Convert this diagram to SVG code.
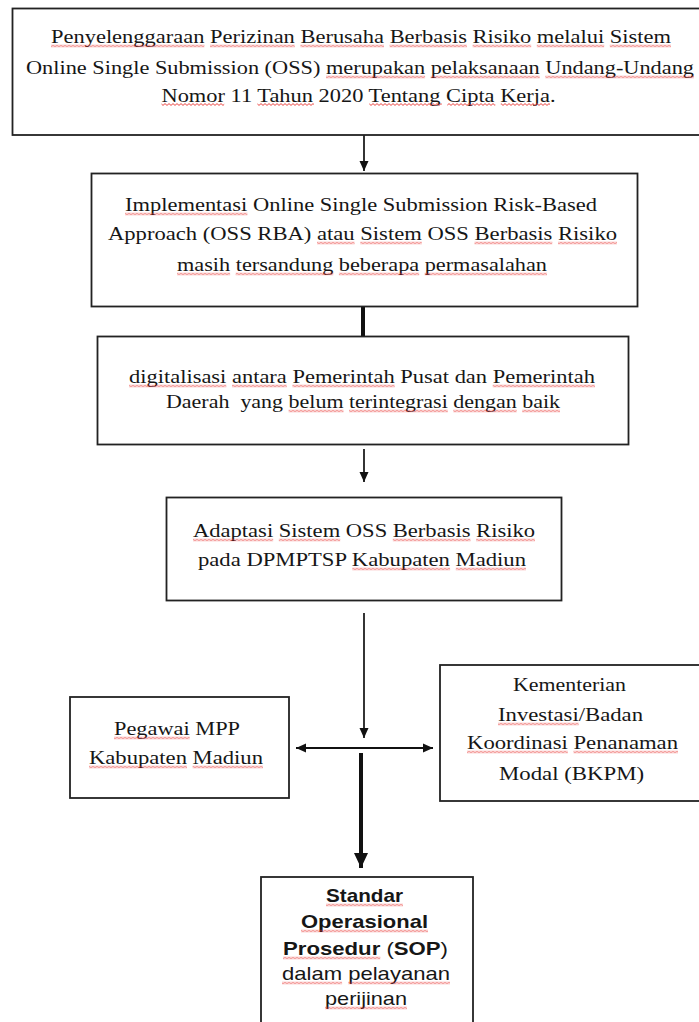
<svg xmlns="http://www.w3.org/2000/svg" width="699" height="1022" viewBox="0 0 699 1022">
<style>
.box{fill:#fff;stroke:#222;stroke-width:1.8}
.t{font-family:"Liberation Serif","Times New Roman",serif;font-size:19px;fill:#161616;text-anchor:middle}
.s{font-family:"Liberation Sans",Arial,sans-serif;font-size:19px;fill:#161616;text-anchor:middle}
.b{font-weight:bold}
.sq rect{height:3px;fill:url(#wv)}
.ln{stroke:#111;stroke-width:1.7;fill:none}
.hz{stroke:#111;stroke-width:2.2;fill:none}
.thick{stroke:#111;stroke-width:4;fill:none}
</style>
<defs>
<pattern id="wv" patternUnits="userSpaceOnUse" width="4" height="3">
<path d="M0,1.5 Q1,-0.3 2,1.5 T4,1.5" fill="none" stroke="#e8302c" stroke-width="0.9"/>
</pattern>
<marker id="ah" markerUnits="userSpaceOnUse" markerWidth="11" markerHeight="10" refX="10" refY="5" orient="auto-start-reverse">
<path d="M0,0.5 L10,5 L0,9.5 z" fill="#111"/>
</marker>
<marker id="ahT" markerUnits="userSpaceOnUse" markerWidth="16" markerHeight="15" refX="15" refY="7.5" orient="auto">
<path d="M0,0.5 L15,7.5 L0,14.5 z" fill="#111"/>
</marker>
</defs>

<g id="connectors">
<line class="ln" x1="364" y1="135" x2="364" y2="171" marker-end="url(#ah)"/>
<line class="thick" x1="363" y1="307" x2="363" y2="336"/>
<line class="ln" x1="364" y1="449" x2="364" y2="482" marker-end="url(#ah)"/>
<line class="ln" x1="364" y1="613" x2="364" y2="738" marker-end="url(#ah)"/>
<line class="hz" x1="296" y1="748" x2="433" y2="748" marker-start="url(#ah)" marker-end="url(#ah)"/>
<line class="thick" x1="361" y1="753" x2="361" y2="868" marker-end="url(#ahT)"/>
</g>

<g id="node-uu">
<rect class="box" x="12.5" y="8.5" width="690" height="126.5"/>
<text class="t" x="361" y="43" textLength="620" lengthAdjust="spacingAndGlyphs"><tspan>Penyelenggaraan</tspan> <tspan>Perizinan</tspan> <tspan>Berusaha</tspan> <tspan>Berbasis</tspan> <tspan>Risiko</tspan> <tspan>melalui</tspan> <tspan>Sistem</tspan></text>
<text class="t" x="360" y="74" textLength="668" lengthAdjust="spacingAndGlyphs">Online Single Submission (OSS) <tspan>merupakan</tspan> <tspan>pelaksanaan</tspan> <tspan>Undang-Undang</tspan></text>
<text class="t" x="358.5" y="101.5" textLength="394" lengthAdjust="spacingAndGlyphs"><tspan>Nomor</tspan> 11 <tspan>Tahun</tspan> 2020 <tspan>Tentang</tspan> <tspan>Cipta</tspan> <tspan>Kerja</tspan>.</text>
<g class="sq" transform="translate(0,44.5)"><rect x="51" width="153.4"/><rect x="210" width="84.8"/><rect x="300.4" width="83.6"/><rect x="389.6" width="77.3"/><rect x="472.6" width="58.6"/><rect x="536.8" width="67.4"/><rect x="609.8" width="61.2"/></g>
<g class="sq" transform="translate(0,75.5)"><rect x="326" width="99.1"/><rect x="430.7" width="109"/><rect x="545.3" width="148.7"/></g>
<g class="sq" transform="translate(0,103)"><rect x="161.5" width="62.7"/><rect x="257.4" width="56.5"/><rect x="369.3" width="72.5"/><rect x="447.3" width="48"/><rect x="500.8" width="49.2"/></g>
</g>

<g id="node-oss-rba">
<rect class="box" x="91.5" y="173.5" width="546" height="133"/>
<text class="t" x="361" y="211" textLength="472" lengthAdjust="spacingAndGlyphs"><tspan>Implementasi</tspan> Online Single Submission Risk-Based</text>
<text class="t" x="362.5" y="240" textLength="509" lengthAdjust="spacingAndGlyphs">Approach (OSS RBA) <tspan>atau</tspan> <tspan>Sistem</tspan> OSS <tspan>Berbasis</tspan> <tspan>Risiko</tspan></text>
<text class="t" x="362" y="271" textLength="370" lengthAdjust="spacingAndGlyphs"><tspan>masih</tspan> <tspan>tersandung</tspan> <tspan>beberapa</tspan> <tspan>permasalahan</tspan></text>
<g class="sq" transform="translate(0,212.5)"><rect x="125" width="122.4"/></g>
<g class="sq" transform="translate(0,241.5)"><rect x="317" width="37.6"/><rect x="360.3" width="61.5"/><rect x="474.5" width="77.8"/><rect x="558" width="59"/></g>
<g class="sq" transform="translate(0,272.5)"><rect x="177" width="53.1"/><rect x="235.7" width="97.6"/><rect x="338.9" width="80.3"/><rect x="424.7" width="122.3"/></g>
</g>

<g id="node-digitalisasi">
<rect class="box" x="97.5" y="336.5" width="531" height="108"/>
<text class="t" x="362" y="383" textLength="466" lengthAdjust="spacingAndGlyphs"><tspan>digitalisasi</tspan> <tspan>antara</tspan> <tspan>Pemerintah</tspan> Pusat dan <tspan>Pemerintah</tspan></text>
<text class="t" x="363" y="408" textLength="394" lengthAdjust="spacingAndGlyphs" xml:space="preserve">Daerah  yang <tspan>belum</tspan> <tspan>terintegrasi</tspan> <tspan>dengan</tspan> <tspan>baik</tspan></text>
<g class="sq" transform="translate(0,384.5)"><rect x="129" width="97.3"/><rect x="232" width="54.8"/><rect x="292.4" width="102.3"/><rect x="492.7" width="102.3"/></g>
<g class="sq" transform="translate(0,409.5)"><rect x="288.6" width="54.9"/><rect x="349" width="98.8"/><rect x="453.3" width="63.4"/><rect x="522.2" width="37.8"/></g>
</g>

<g id="node-adaptasi">
<rect class="box" x="166.5" y="497.5" width="395" height="103"/>
<text class="t" x="364" y="537" textLength="342" lengthAdjust="spacingAndGlyphs"><tspan>Adaptasi</tspan> <tspan>Sistem</tspan> OSS <tspan>Berbasis</tspan> <tspan>Risiko</tspan></text>
<text class="t" x="362" y="566" textLength="328" lengthAdjust="spacingAndGlyphs">pada DPMPTSP <tspan>Kabupaten</tspan> <tspan>Madiun</tspan></text>
<g class="sq" transform="translate(0,538.5)"><rect x="193" width="80.2"/><rect x="278.8" width="61.4"/><rect x="392.8" width="77.7"/><rect x="476.1" width="58.9"/></g>
<g class="sq" transform="translate(0,567.5)"><rect x="352.3" width="97.8"/><rect x="455.8" width="70.2"/></g>
</g>

<g id="node-pegawai">
<rect class="box" x="70" y="697" width="219" height="101"/>
<text class="t" x="177" y="735" textLength="126" lengthAdjust="spacingAndGlyphs"><tspan>Pegawai</tspan> MPP</text>
<text class="t" x="176" y="764" textLength="174" lengthAdjust="spacingAndGlyphs"><tspan>Kabupaten</tspan> <tspan>Madiun</tspan></text>
<g class="sq" transform="translate(0,736.5)"><rect x="114" width="75.7"/></g>
<g class="sq" transform="translate(0,765.5)"><rect x="89" width="98"/><rect x="192.6" width="70.4"/></g>
</g>

<g id="node-bkpm">
<rect class="box" x="440" y="665" width="262" height="136"/>
<text class="t" x="569.5" y="691" textLength="113" lengthAdjust="spacingAndGlyphs">Kementerian</text>
<text class="t" x="570.5" y="721" textLength="145" lengthAdjust="spacingAndGlyphs"><tspan>Investasi</tspan>/Badan</text>
<text class="t" x="572.5" y="749" textLength="211" lengthAdjust="spacingAndGlyphs"><tspan>Koordinasi</tspan> <tspan>Penanaman</tspan></text>
<text class="t" x="571.5" y="780" textLength="145" lengthAdjust="spacingAndGlyphs">Modal (BKPM)</text>
<g class="sq" transform="translate(0,722.5)"><rect x="498" width="80.7"/></g>
<g class="sq" transform="translate(0,750.5)"><rect x="467" width="100.8"/><rect x="573.5" width="104.5"/></g>
</g>

<g id="node-sop">
<rect class="box" x="261" y="877" width="212" height="160"/>
<text class="s b" x="364.5" y="902" textLength="77" lengthAdjust="spacingAndGlyphs"><tspan>Standar</tspan></text>
<text class="s b" x="364.5" y="928" textLength="127" lengthAdjust="spacingAndGlyphs"><tspan>Operasional</tspan></text>
<text class="s" x="365.5" y="955" textLength="165" lengthAdjust="spacingAndGlyphs"><tspan class="b">Prosedur</tspan> (<tspan class="b">SOP</tspan>)</text>
<text class="s" x="366" y="980" textLength="168" lengthAdjust="spacingAndGlyphs"><tspan>dalam</tspan> <tspan>pelayanan</tspan></text>
<text class="s" x="366" y="1005" textLength="82" lengthAdjust="spacingAndGlyphs"><tspan>perijinan</tspan></text>
<g class="sq" transform="translate(0,903.5)"><rect x="326" width="77"/></g>
<g class="sq" transform="translate(0,929.5)"><rect x="301" width="127"/></g>
<g class="sq" transform="translate(0,956.5)"><rect x="283" width="97.3"/></g>
<g class="sq" transform="translate(0,981.5)"><rect x="282" width="60.1"/><rect x="348.2" width="101.8"/></g>
<g class="sq" transform="translate(0,1006.5)"><rect x="325" width="82"/></g>
</g>
</svg>
